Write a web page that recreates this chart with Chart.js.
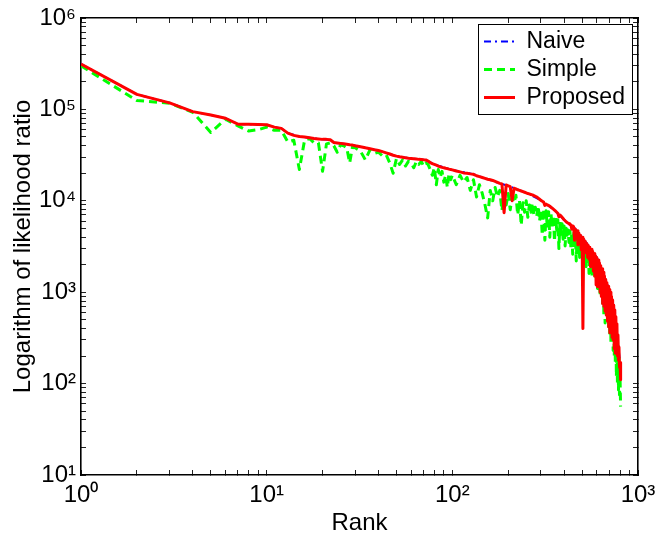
<!DOCTYPE html>
<html>
<head>
<meta charset="utf-8">
<title>Logarithm of likelihood ratio by rank</title>
<script src="https://cdn.jsdelivr.net/npm/chart.js@4/dist/chart.umd.min.js"></script>
<style>
  html, body { margin: 0; padding: 0; background: #fff; }
  #box { width: 655px; height: 542px; }
</style>
</head>
<body>
<div id="box"><canvas id="rankChart"></canvas></div>
<script>
// rank (x) of the Simple and Proposed curves
var ranks = [
  1, 2, 3, 4, 5, 6, 7, 8, 9, 10, 11, 12, 13, 14, 15, 16, 17, 18, 19, 20, 21, 22, 23, 24, 25, 26, 27, 28, 29, 30,
  32, 34, 36, 38, 40, 42, 44, 46, 48, 50, 52, 54, 56, 58, 60, 62, 64, 66, 68, 70, 72, 74, 76, 78, 80, 82, 84, 86, 88, 90, 92, 94, 96, 98, 100,
  105, 110, 115, 120, 125, 130, 135, 140, 145, 150, 155, 160, 165, 170, 175, 180, 185, 190, 195, 200,
  205, 210, 215, 220, 225, 230, 235, 240, 245, 250, 255, 260, 265, 270, 275, 280, 285, 290, 295, 300,
  305, 310, 315, 320, 325, 330, 335, 340, 345, 350, 355, 360, 365, 370, 375, 380, 385, 390, 395, 400,
  405, 410, 415, 420, 425, 430, 435, 440, 445, 450, 455, 460, 465, 470, 475, 480, 485, 490, 495, 500,
  505, 510, 515, 520, 525, 530, 535, 540, 545, 550, 555, 560, 565, 570, 575, 580, 585, 590, 595, 600,
  605, 610, 615, 620, 625, 630, 635, 640, 645, 650, 655, 660, 665, 670, 675, 680, 685, 690, 695, 700,
  705, 710, 715, 720, 725, 730, 735, 740, 745, 750, 755, 760, 765, 770, 775, 780, 785, 790, 795, 800, 806
];
var proposedVals = [
  314000, 146000, 118000, 94500, 87000, 80000, 69000, 68800, 68500, 68000, 64000, 62000, 55000, 52000, 50500, 50000, 49000, 48000, 47500, 47000, 47000, 46500, 43500, 43000, 42500, 42000, 41500, 41000, 40700, 40000,
  39000, 38000, 37200, 36200, 35500, 34500, 33500, 32500, 31500, 30800, 30300, 30000, 29500, 29200, 29000, 28800, 28600, 28400, 28300, 28100, 28000, 27200, 26200, 25500, 25000, 24500, 24000, 23600, 23200, 23000, 22700, 22500, 22200, 22000, 21800,
  21200, 20700, 20200, 20000, 19700, 19500, 18800, 18400, 18000, 17600, 17200, 17000, 16700, 16300, 15900, 15500, 15300, 7400, 14900, 14600,
  14300, 10000, 13700, 13500, 13200, 13000, 12800, 12600, 12400, 12200, 12000, 11900, 11700, 11600, 11400, 11200, 11000, 10700, 10400, 10100,
  9900, 9700, 8900, 9200, 9000, 8900, 8700, 8500, 8300, 8100, 7900, 7700, 7500, 7300, 6700, 7000, 6800, 6600, 6400, 6200,
  6050, 5900, 5800, 5700, 5600, 5500, 5450, 4900, 5300, 5200, 3700, 4900, 4000, 4700, 3300, 4450, 3600, 4200, 2900, 4000,
  400, 3800, 2800, 3600, 2700, 3400, 2400, 3250, 2300, 3100, 1900, 2950, 2000, 2800, 1700, 2650, 1500, 2500, 1200, 2400,
  1150, 2250, 1300, 2100, 1000, 1950, 900, 1800, 750, 1650, 700, 1500, 620, 1380, 560, 1270, 480, 1160, 420, 1070,
  360, 1000, 380, 900, 320, 820, 300, 720, 240, 640, 215, 540, 230, 450, 200, 340, 180, 250, 150, 170, 110
];
var simpleVals = [
  300000, 125000, 117000, 93000, 56000, 78000, 66000, 58000, 60000, 64000, 59000, 59000, 44000, 46000, 22000, 46000, 48000, 43000, 43000, 21000, 42000, 43000, 40000, 34000, 41000, 40000, 38000, 26000, 39000, 38000,
  35000, 28000, 36000, 33000, 34000, 31000, 32000, 26000, 20000, 29000, 25000, 28000, 24000, 27000, 26000, 23000, 27000, 25000, 27000, 24000, 26000, 25000, 22000, 19000, 23000, 15000, 22000, 18000, 21000, 16000, 19000, 14000, 20000, 17000, 19000,
  15000, 19000, 16000, 18000, 13000, 17000, 11000, 15000, 12000, 9000, 6500, 13000, 10000, 14000, 11000, 13000, 7800, 12000, 9000, 12000,
  8000, 11000, 9500, 11500, 7000, 10000, 5400, 9500, 7500, 10000, 6600, 9000, 7500, 9500, 7000, 8500, 6800, 8800, 6000, 8000,
  4200, 8200, 3700, 7800, 5000, 7600, 4000, 7200, 5200, 6900, 3600, 6500, 4800, 6200, 3000, 5900, 4300, 5600, 3800, 5300,
  3200, 5000, 4200, 4800, 3500, 4700, 3100, 4500, 2600, 4400, 3300, 4100, 2200, 4000, 2900, 3800, 2400, 3600, 2500, 3400,
  2100, 3200, 2600, 3000, 1900, 2900, 2200, 2700, 1600, 2600, 2000, 2500, 1500, 2400, 1800, 2200, 1500, 2100, 1700, 2000,
  1100, 1900, 1300, 1750, 900, 1650, 1000, 1500, 700, 1400, 550, 1250, 460, 1150, 600, 1050, 500, 950, 420, 880,
  330, 800, 280, 700, 300, 620, 230, 540, 200, 470, 170, 400, 120, 330, 100, 260, 85, 190, 75, 120, 56
];
// Naive is almost hidden under Proposed
var naiveRanks = [1, 2, 3, 4, 5, 6, 7, 10, 11, 12, 13, 15, 20, 22, 23, 30, 40, 50, 60, 72, 80, 100, 130, 150, 180, 200, 250, 300, 350, 400, 450, 500, 550, 600, 650, 700, 750, 800, 806];
var naiveVals = [314000, 146000, 118000, 94500, 87000, 80000, 69000, 68000, 64000, 62000, 55000, 50500, 47000, 46500, 43500, 40000, 35500, 30800, 29000, 28000, 25000, 21800, 19500, 17600, 15500, 14600, 12200, 10100, 8100, 6200, 5200, 4000, 3100, 2400, 1650, 1070, 640, 170, 110];

var xTickValues = [1, 10, 100, 1000];
var xTickLabels = ['10\u2070', '10\u00b9', '10\u00b2', '10\u00b3'];
var yTickValues = [10, 100, 1000, 10000, 100000, 1000000];
var yTickLabels = ['10\u00b9', '10\u00b2', '10\u00b3', '10\u2074', '10\u2075', '10\u2076'];

function toPoints(xs, ys) {
  return xs.map(function (x, i) { return { x: x, y: ys[i] }; });
}
// 1..9 per decade, like matlab minor ticks
function logTicks(majors) {
  var out = [];
  for (var i = 0; i < majors.length - 1; i++) {
    for (var k = 1; k < 10; k++) out.push({ value: majors[i] * k });
  }
  out.push({ value: majors[majors.length - 1] });
  return out;
}
function tickLabel(values, labels) {
  return function (v) {
    var i = values.indexOf(v);
    return i >= 0 ? labels[i] : '';
  };
}
function axis(pos, min, max, majors, labels, showLabels, size) {
  return {
    type: 'logarithmic',
    position: pos,
    min: min,
    max: max,
    afterBuildTicks: function (s) { s.ticks = logTicks(majors); },
    afterFit: function (s) {
      s.paddingLeft = 0; s.paddingRight = 0; s.paddingTop = 0; s.paddingBottom = 0;
      if (pos === 'left' || pos === 'right') s.width = size; else s.height = size;
    },
    grid: { display: true, drawOnChartArea: false, drawTicks: true, tickLength: -5, color: '#000', tickColor: '#222', tickWidth: 1 },
    border: { display: true, color: '#000', width: 1.6 },
    ticks: {
      display: showLabels, autoSkip: false, maxRotation: 0, minRotation: 0,
      padding: pos === 'bottom' ? 11 : 10,
      font: { size: 24 },
      callback: tickLabel(majors, labels)
    }
  };
}

Chart.defaults.font.family = '"Liberation Sans", Arial, Helvetica, sans-serif';
Chart.defaults.color = '#000';

// put the legend in the top right corner of the axes, with a box like matlab
var legendCorner = {
  id: 'legendCorner',
  afterLayout: function (chart) {
    var lg = chart.legend;
    lg.left = 479; lg.top = 25; lg.right = 632; lg.bottom = 475;
  },
  beforeDraw: function (chart) {
    var ctx = chart.ctx;
    ctx.save();
    ctx.fillStyle = '#fff';
    ctx.strokeStyle = '#000';
    ctx.lineWidth = 1;
    ctx.fillRect(478.5, 24.5, 154, 90);
    ctx.strokeRect(478.5, 24.5, 154, 90);
    ctx.restore();
  }
};

var scaleX = axis('bottom', 1, 1000, xTickValues, xTickLabels, true, 67);
scaleX.title = { display: true, text: 'Rank', font: { size: 24 }, padding: { top: 0, bottom: 4 } };
var scaleY = axis('left', 10, 1000000, yTickValues, yTickLabels, true, 81);
scaleY.title = { display: true, text: 'Logarithm of likelihood ratio', font: { size: 24 }, padding: { top: 8.5, bottom: 0 } };

var ctx = document.getElementById('rankChart').getContext('2d');
var rankChart = new Chart(ctx, {
  type: 'line',
  data: {
    datasets: [{
      label: 'Naive',
      data: toPoints(naiveRanks, naiveVals),
      borderColor: '#0000ff',
      backgroundColor: '#0000ff',
      borderWidth: 2,
      borderDash: [7, 4, 2, 4],
      order: 2
    }, {
      label: 'Simple',
      data: toPoints(ranks, simpleVals),
      borderColor: '#00ff00',
      backgroundColor: '#00ff00',
      borderWidth: 3,
      borderDash: [8, 5],
      order: 1
    }, {
      label: 'Proposed',
      data: toPoints(ranks, proposedVals),
      borderColor: '#ff0000',
      backgroundColor: '#ff0000',
      borderWidth: 3,
      order: 0
    }]
  },
  options: {
    responsive: true,
    maintainAspectRatio: false,
    animation: false,
    events: [],
    layout: { padding: { top: 18, right: 17, bottom: 0, left: 0 } },
    elements: {
      point: { radius: 0 },
      line: { tension: 0, fill: false, borderJoinStyle: 'round' }
    },
    scales: {
      x: scaleX,
      y: scaleY,
      x2: axis('top', 1, 1000, xTickValues, xTickLabels, false, 0),
      y2: axis('right', 10, 1000000, yTickValues, yTickLabels, false, 0)
    },
    plugins: {
      tooltip: { enabled: false },
      legend: {
        position: 'chartArea',
        align: 'start',
        labels: {
          usePointStyle: true,
          pointStyle: 'line',
          pointStyleWidth: 31,
          boxHeight: 23,
          padding: 5,
          color: '#000',
          font: { size: 23 },
          sort: function (a, b) { return a.datasetIndex - b.datasetIndex; },
          generateLabels: function (chart) {
            var items = Chart.defaults.plugins.legend.labels.generateLabels(chart);
            items.forEach(function (it) {
              var ds = chart.data.datasets[it.datasetIndex];
              it.lineDash = ds.borderDash || [];
              it.lineWidth = ds.borderWidth;
              it.strokeStyle = ds.borderColor;
            });
            return items;
          }
        }
      }
    }
  },
  plugins: [legendCorner]
});
</script>
</body>
</html>
